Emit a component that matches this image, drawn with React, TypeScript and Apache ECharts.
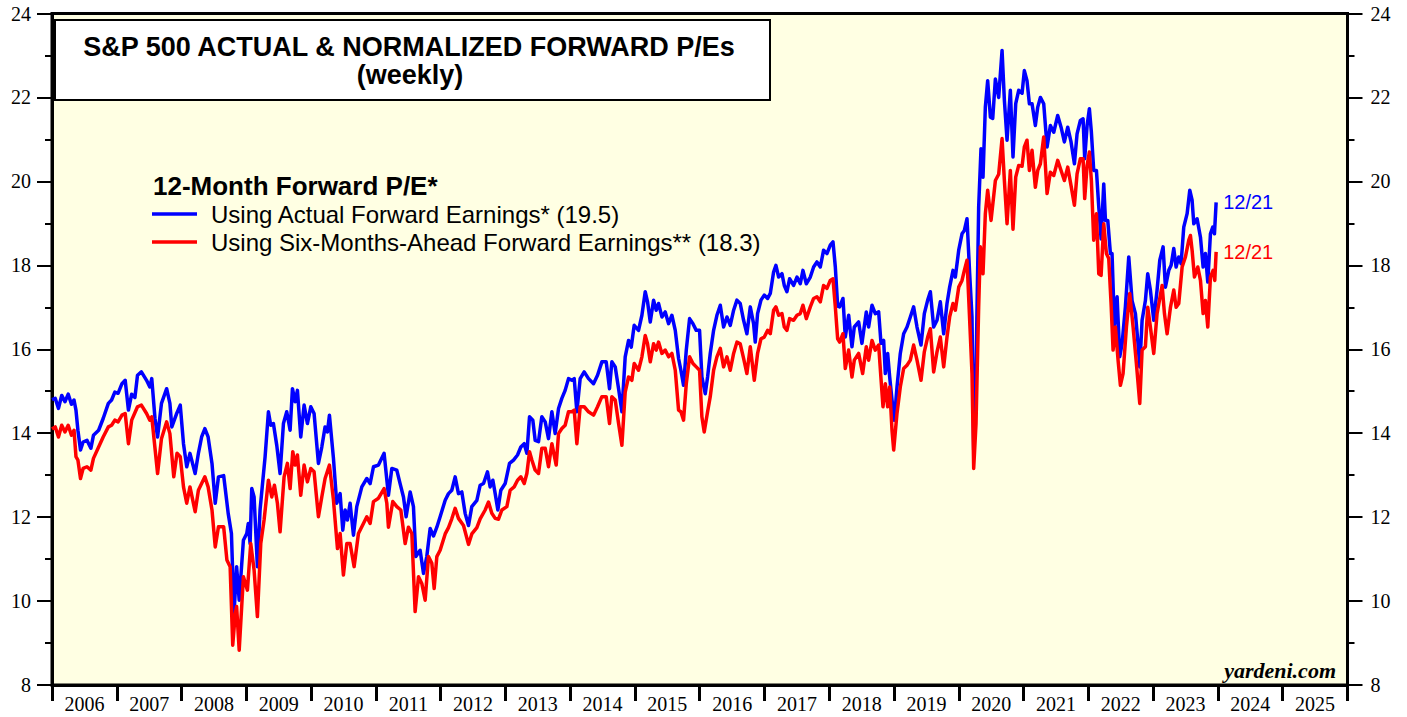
import React, { useEffect, useRef } from "react";
import * as echarts from "echarts";

const yearLabels = ["2006","2007","2008","2009","2010","2011","2012","2013","2014","2015","2016","2017","2018","2019","2020","2021","2022","2023","2024","2025"];
const legendTitle = "12-Month Forward P/E*";
const seriesNames = ["Using Actual Forward Earnings* (19.5)", "Using Six-Months-Ahead Forward Earnings** (18.3)"];
const endLabels = ["12/21", "12/21"];
const chartTitle = ["S&P 500 ACTUAL & NORMALIZED FORWARD P/Es", "(weekly)"];
const sourceLabel = "yardeni.com";

// [decimal year, P/E]
const actualPE = [
[2006.0,14.8],[2006.05,14.83],[2006.10,14.59],[2006.15,14.90],[2006.20,14.75],[2006.25,14.93],[2006.30,14.69],[2006.34,14.79],[2006.37,14.55],[2006.40,14.07],[2006.44,13.60],[2006.48,13.79],[2006.54,13.83],[2006.60,13.64],[2006.64,13.95],[2006.72,14.07],[2006.79,14.35],[2006.87,14.71],[2006.92,14.79],[2006.97,14.98],[2007.02,14.95],[2007.08,15.18],[2007.13,15.26],[2007.18,14.55],[2007.23,14.93],[2007.28,14.85],[2007.32,15.38],[2007.38,15.46],[2007.46,15.26],[2007.51,15.10],[2007.54,15.30],[2007.59,14.35],[2007.63,13.91],[2007.69,14.71],[2007.77,15.06],[2007.82,14.71],[2007.85,14.15],[2007.92,14.45],[2007.98,14.67],[2008.03,13.75],[2008.08,13.20],[2008.13,13.52],[2008.21,13.04],[2008.26,13.52],[2008.31,13.91],[2008.36,14.11],[2008.41,13.91],[2008.47,13.28],[2008.52,12.33],[2008.57,12.96],[2008.65,12.99],[2008.72,12.09],[2008.77,11.61],[2008.81,9.7],[2008.85,10.82],[2008.89,10.02],[2008.955,11.45],[2009.007,11.61],[2009.03,11.85],[2009.058,11.37],[2009.084,12.68],[2009.12,12.48],[2009.171,10.82],[2009.212,12.17],[2009.248,12.76],[2009.29,13.44],[2009.341,14.51],[2009.377,14.19],[2009.418,14.23],[2009.47,13.71],[2009.521,13.04],[2009.573,14.23],[2009.624,14.51],[2009.676,14.07],[2009.712,15.06],[2009.753,14.75],[2009.789,15.02],[2009.84,13.91],[2009.892,14.67],[2009.943,14.23],[2009.995,14.63],[2010.046,14.47],[2010.113,13.28],[2010.165,13.67],[2010.216,14.15],[2010.252,14.03],[2010.283,14.43],[2010.345,13.40],[2010.396,12.33],[2010.448,12.56],[2010.489,11.69],[2010.525,12.17],[2010.561,11.93],[2010.602,12.33],[2010.654,11.57],[2010.705,12.25],[2010.783,12.72],[2010.86,12.92],[2010.911,12.80],[2010.963,13.20],[2011.04,13.24],[2011.127,13.52],[2011.194,12.52],[2011.246,13.16],[2011.323,13.12],[2011.374,12.80],[2011.426,12.48],[2011.467,12.01],[2011.529,12.60],[2011.58,12.25],[2011.617,11.06],[2011.683,11.21],[2011.735,10.66],[2011.786,11.06],[2011.838,11.73],[2011.889,11.55],[2011.941,11.76],[2011.992,12.01],[2012.07,12.40],[2012.121,12.56],[2012.172,12.64],[2012.224,12.96],[2012.275,12.56],[2012.327,12.60],[2012.378,12.09],[2012.43,11.8],[2012.481,12.25],[2012.559,12.40],[2012.61,12.76],[2012.662,12.80],[2012.723,13.08],[2012.764,12.72],[2012.806,12.88],[2012.842,12.56],[2012.883,12.17],[2012.929,12.64],[2012.996,12.80],[2013.063,13.28],[2013.125,13.36],[2013.187,13.48],[2013.238,13.67],[2013.29,13.75],[2013.331,13.52],[2013.372,14.39],[2013.423,14.31],[2013.459,13.83],[2013.511,13.80],[2013.562,14.39],[2013.614,14.27],[2013.665,13.87],[2013.717,14.51],[2013.768,13.99],[2013.82,14.59],[2013.871,14.83],[2013.922,15.02],[2013.974,15.30],[2014.026,15.26],[2014.062,15.30],[2014.103,14.51],[2014.154,15.30],[2014.216,15.46],[2014.283,15.30],[2014.36,15.18],[2014.422,15.38],[2014.489,15.70],[2014.556,15.70],[2014.607,15.06],[2014.643,15.70],[2014.695,15.58],[2014.747,15.06],[2014.798,14.51],[2014.849,15.82],[2014.901,16.21],[2014.942,16.05],[2014.988,16.57],[2015.055,16.45],[2015.107,16.81],[2015.158,17.37],[2015.194,17.13],[2015.236,16.65],[2015.287,17.17],[2015.328,16.93],[2015.364,17.09],[2015.416,16.77],[2015.467,16.89],[2015.519,16.61],[2015.57,16.81],[2015.622,16.45],[2015.673,15.78],[2015.709,15.50],[2015.75,15.14],[2015.792,15.98],[2015.843,16.73],[2015.895,16.61],[2015.946,16.45],[2015.997,16.45],[2016.033,15.34],[2016.085,14.94],[2016.121,15.34],[2016.162,15.90],[2016.214,16.45],[2016.265,16.81],[2016.317,17.05],[2016.368,16.53],[2016.42,16.77],[2016.471,16.57],[2016.523,16.93],[2016.574,17.17],[2016.625,17.09],[2016.677,16.69],[2016.728,16.37],[2016.78,17.01],[2016.831,16.61],[2016.857,16.17],[2016.893,16.85],[2016.945,17.17],[2016.996,17.29],[2017.048,17.21],[2017.089,17.33],[2017.14,17.84],[2017.176,18.00],[2017.218,17.72],[2017.269,17.80],[2017.305,17.52],[2017.346,17.37],[2017.387,17.68],[2017.449,17.52],[2017.501,17.72],[2017.552,17.56],[2017.593,17.88],[2017.645,17.56],[2017.707,17.72],[2017.758,17.96],[2017.809,18.08],[2017.861,17.96],[2017.912,18.36],[2017.964,18.28],[2018.015,18.48],[2018.057,18.56],[2018.093,17.96],[2018.129,17.03],[2018.16,17.01],[2018.211,17.21],[2018.247,16.29],[2018.299,16.81],[2018.35,16.06],[2018.386,16.53],[2018.453,16.65],[2018.504,16.14],[2018.571,16.89],[2018.607,16.53],[2018.659,17.05],[2018.71,16.85],[2018.762,16.89],[2018.798,16.14],[2018.839,16.21],[2018.865,15.42],[2018.901,15.90],[2018.932,15.34],[2018.968,14.79],[2019.004,14.31],[2019.045,15.10],[2019.096,15.90],[2019.148,16.37],[2019.2,16.53],[2019.251,16.77],[2019.302,17.01],[2019.354,16.53],[2019.416,16.10],[2019.467,16.85],[2019.519,17.17],[2019.56,17.37],[2019.611,16.53],[2019.663,16.69],[2019.714,17.13],[2019.766,16.37],[2019.817,17.09],[2019.858,17.48],[2019.91,17.88],[2019.946,17.72],[2019.998,18.36],[2020.049,18.75],[2020.085,18.83],[2020.126,19.11],[2020.167,17.80],[2020.203,16.77],[2020.229,13.6],[2020.265,15.5],[2020.306,19.39],[2020.342,20.78],[2020.373,20.10],[2020.409,21.77],[2020.445,22.40],[2020.487,21.53],[2020.523,21.5],[2020.564,22.44],[2020.615,22.0],[2020.667,23.12],[2020.703,21.93],[2020.744,20.98],[2020.795,22.17],[2020.836,20.58],[2020.878,21.85],[2020.924,22.17],[2020.976,22.10],[2021.011,22.64],[2021.052,22.40],[2021.089,21.85],[2021.13,21.85],[2021.181,21.33],[2021.218,21.77],[2021.259,22.0],[2021.31,21.85],[2021.362,20.82],[2021.413,21.33],[2021.465,21.17],[2021.526,21.57],[2021.578,21.29],[2021.629,20.94],[2021.681,21.29],[2021.732,20.94],[2021.784,20.42],[2021.825,21.13],[2021.876,21.45],[2021.918,21.49],[2021.943,20.54],[2021.98,21.33],[2022.015,21.73],[2022.046,21.17],[2022.082,20.26],[2022.124,20.26],[2022.16,19.39],[2022.196,18.63],[2022.237,19.94],[2022.263,19.07],[2022.299,19.07],[2022.34,18.28],[2022.365,18.28],[2022.402,16.53],[2022.443,17.25],[2022.484,15.82],[2022.52,16.13],[2022.571,17.01],[2022.623,18.20],[2022.674,17.16],[2022.726,16.85],[2022.762,16.21],[2022.793,15.58],[2022.829,16.69],[2022.88,17.16],[2022.916,17.80],[2022.957,17.41],[2023.009,16.69],[2023.06,17.41],[2023.102,18.12],[2023.153,18.44],[2023.189,17.48],[2023.241,17.88],[2023.277,18.0],[2023.318,18.40],[2023.354,17.96],[2023.395,18.20],[2023.431,18.04],[2023.472,18.91],[2023.524,19.23],[2023.565,19.79],[2023.601,19.55],[2023.627,18.99],[2023.678,19.11],[2023.73,18.67],[2023.771,17.96],[2023.807,18.28],[2023.843,17.60],[2023.884,18.75],[2023.92,18.91],[2023.946,18.75],[2023.972,19.5]
];

const sixMonthPE = [
[2006.0,14.1],[2006.05,14.15],[2006.10,13.91],[2006.15,14.19],[2006.20,14.03],[2006.25,14.19],[2006.30,13.95],[2006.34,14.07],[2006.37,13.44],[2006.40,13.36],[2006.44,12.92],[2006.48,13.16],[2006.54,13.20],[2006.60,13.12],[2006.64,13.40],[2006.72,13.67],[2006.79,13.91],[2006.87,14.15],[2006.92,14.19],[2006.97,14.31],[2007.02,14.27],[2007.08,14.43],[2007.13,14.47],[2007.18,13.75],[2007.23,14.31],[2007.32,14.63],[2007.38,14.67],[2007.46,14.47],[2007.51,14.31],[2007.54,14.39],[2007.59,13.64],[2007.63,13.04],[2007.69,13.87],[2007.77,14.27],[2007.82,13.99],[2007.88,12.96],[2007.93,13.52],[2007.98,13.44],[2008.03,12.72],[2008.08,12.33],[2008.13,12.72],[2008.21,12.13],[2008.26,12.64],[2008.31,12.80],[2008.36,12.96],[2008.41,12.72],[2008.47,12.17],[2008.52,11.29],[2008.57,11.77],[2008.65,11.77],[2008.70,10.98],[2008.75,10.82],[2008.79,8.95],[2008.83,9.71],[2008.85,9.87],[2008.89,8.83],[2008.955,10.58],[2009.017,10.26],[2009.068,11.37],[2009.12,10.74],[2009.171,9.63],[2009.223,11.37],[2009.274,11.93],[2009.341,12.88],[2009.393,12.48],[2009.434,12.76],[2009.48,12.33],[2009.521,11.65],[2009.583,12.96],[2009.634,13.28],[2009.676,12.68],[2009.717,13.56],[2009.753,13.24],[2009.789,13.48],[2009.84,12.52],[2009.892,13.24],[2009.943,12.84],[2009.995,13.16],[2010.046,13.08],[2010.113,12.01],[2010.165,12.48],[2010.216,12.92],[2010.283,13.24],[2010.345,12.41],[2010.407,11.25],[2010.448,11.61],[2010.499,10.62],[2010.551,11.37],[2010.602,11.37],[2010.664,10.82],[2010.731,11.61],[2010.808,11.85],[2010.86,12.01],[2010.911,11.85],[2010.963,12.37],[2011.04,12.45],[2011.127,12.68],[2011.169,12.33],[2011.194,11.76],[2011.261,12.37],[2011.323,12.25],[2011.385,12.17],[2011.452,11.37],[2011.503,11.76],[2011.555,11.61],[2011.606,9.75],[2011.658,10.58],[2011.709,10.42],[2011.761,10.02],[2011.812,11.06],[2011.864,10.90],[2011.9,10.30],[2011.941,11.06],[2011.992,11.21],[2012.07,11.6],[2012.121,11.75],[2012.172,11.96],[2012.224,12.21],[2012.275,11.97],[2012.353,11.8],[2012.43,11.35],[2012.481,11.6],[2012.559,11.75],[2012.61,11.96],[2012.687,12.17],[2012.739,12.36],[2012.79,12.09],[2012.842,11.97],[2012.893,11.95],[2012.945,12.17],[2013.022,12.25],[2013.073,12.64],[2013.135,12.72],[2013.187,12.88],[2013.238,12.96],[2013.29,12.80],[2013.331,13.04],[2013.372,13.56],[2013.408,13.36],[2013.459,13.12],[2013.511,13.04],[2013.562,13.64],[2013.614,13.64],[2013.665,13.20],[2013.717,13.75],[2013.784,13.24],[2013.82,13.99],[2013.871,14.11],[2013.922,14.19],[2013.974,14.51],[2014.026,14.51],[2014.062,14.55],[2014.103,13.75],[2014.154,14.63],[2014.216,14.63],[2014.283,14.51],[2014.36,14.43],[2014.422,14.63],[2014.489,14.87],[2014.556,14.87],[2014.607,14.23],[2014.643,14.87],[2014.695,14.79],[2014.747,14.23],[2014.798,13.71],[2014.849,14.98],[2014.901,15.34],[2014.952,15.26],[2014.988,15.66],[2015.055,15.50],[2015.107,15.82],[2015.158,16.33],[2015.194,16.13],[2015.236,15.70],[2015.287,16.13],[2015.328,15.98],[2015.364,16.17],[2015.416,15.90],[2015.467,15.98],[2015.519,15.82],[2015.57,15.90],[2015.622,15.50],[2015.673,14.55],[2015.709,14.51],[2015.75,14.31],[2015.792,15.18],[2015.843,15.82],[2015.895,15.66],[2015.946,15.58],[2015.997,15.50],[2016.033,14.39],[2016.069,14.03],[2016.121,14.51],[2016.162,14.87],[2016.214,15.50],[2016.265,15.82],[2016.317,16.02],[2016.368,15.58],[2016.42,15.82],[2016.471,15.50],[2016.523,15.90],[2016.574,16.17],[2016.625,16.13],[2016.677,15.78],[2016.728,15.42],[2016.78,16.06],[2016.842,15.26],[2016.893,15.90],[2016.945,16.25],[2016.996,16.29],[2017.048,16.45],[2017.089,16.37],[2017.14,16.93],[2017.176,17.01],[2017.218,16.81],[2017.269,16.85],[2017.305,16.53],[2017.346,16.45],[2017.387,16.73],[2017.449,16.69],[2017.501,16.81],[2017.552,16.85],[2017.593,17.05],[2017.645,16.73],[2017.707,17.01],[2017.758,17.21],[2017.809,17.25],[2017.861,17.13],[2017.912,17.52],[2017.964,17.45],[2018.015,17.64],[2018.057,17.68],[2018.093,17.01],[2018.129,16.25],[2018.16,16.17],[2018.211,16.37],[2018.247,15.54],[2018.299,15.98],[2018.35,15.34],[2018.386,15.74],[2018.453,15.90],[2018.515,15.42],[2018.571,16.06],[2018.607,15.74],[2018.659,16.21],[2018.71,15.98],[2018.762,16.10],[2018.798,15.30],[2018.829,14.63],[2018.865,15.18],[2018.901,14.63],[2018.932,15.10],[2018.968,14.07],[2018.994,13.60],[2019.045,14.47],[2019.096,15.10],[2019.148,15.54],[2019.2,15.62],[2019.251,15.74],[2019.302,16.10],[2019.354,15.74],[2019.416,15.26],[2019.467,15.94],[2019.519,16.29],[2019.56,16.49],[2019.611,15.46],[2019.663,15.94],[2019.714,16.29],[2019.766,15.58],[2019.817,16.29],[2019.858,16.77],[2019.91,17.09],[2019.946,16.93],[2019.998,17.48],[2020.049,17.64],[2020.085,17.88],[2020.126,18.12],[2020.167,16.69],[2020.203,15.42],[2020.229,13.16],[2020.265,14.23],[2020.306,17.01],[2020.332,18.44],[2020.373,17.80],[2020.409,19.23],[2020.445,19.79],[2020.497,19.07],[2020.564,20.02],[2020.615,20.17],[2020.667,21.02],[2020.703,20.02],[2020.744,18.99],[2020.795,20.26],[2020.836,18.86],[2020.878,20.1],[2020.924,20.38],[2020.976,20.36],[2021.011,20.82],[2021.052,20.98],[2021.089,20.26],[2021.13,20.74],[2021.181,19.86],[2021.218,20.26],[2021.259,20.42],[2021.31,21.06],[2021.362,19.71],[2021.413,20.22],[2021.465,20.14],[2021.526,20.50],[2021.578,20.26],[2021.629,20.02],[2021.681,20.34],[2021.732,19.9],[2021.784,19.43],[2021.825,20.18],[2021.876,20.54],[2021.918,20.54],[2021.943,19.59],[2021.98,20.38],[2022.015,20.70],[2022.046,20.02],[2022.082,18.60],[2022.124,19.23],[2022.16,17.80],[2022.196,17.76],[2022.237,18.99],[2022.278,18.28],[2022.314,18.16],[2022.35,17.09],[2022.381,15.98],[2022.417,16.53],[2022.458,15.74],[2022.494,15.14],[2022.535,15.42],[2022.587,16.53],[2022.638,17.33],[2022.69,16.53],[2022.741,15.66],[2022.793,14.71],[2022.829,15.98],[2022.88,16.06],[2022.916,17.0],[2022.957,16.53],[2023.009,15.90],[2023.06,16.85],[2023.138,17.52],[2023.174,16.85],[2023.215,16.37],[2023.267,17.0],[2023.318,17.41],[2023.354,17.0],[2023.395,17.09],[2023.447,17.96],[2023.498,18.20],[2023.55,18.60],[2023.575,18.71],[2023.601,18.36],[2023.637,17.72],[2023.689,17.96],[2023.73,17.64],[2023.771,16.85],[2023.807,17.16],[2023.843,16.53],[2023.884,17.72],[2023.925,17.88],[2023.951,17.64],[2023.972,18.32]
];

const SANS = '"Liberation Sans", Arial, sans-serif';
const SERIF = '"Liberation Serif", "Times New Roman", serif';

export default function App() {
  const ref = useRef<HTMLDivElement>(null);
  useEffect(() => {
    if (!ref.current) return;
    const chart = echarts.init(ref.current, undefined, { renderer: "svg" });
    const yAxisBase = (pos: "left" | "right", margin: number) => ({
      type: "value",
      position: pos,
      min: 8,
      max: 24,
      interval: 2,
      axisLine: { show: true, lineStyle: { color: "#000", width: 3 } },
      axisTick: { show: true, length: 15, lineStyle: { color: "#000", width: 2 } },
      minorTick: { show: true, splitNumber: 2, length: 7, lineStyle: { color: "#000", width: 2 } },
      splitLine: { show: false },
      axisLabel: { color: "#000", fontSize: 20, fontFamily: SERIF, margin },
    });
    chart.setOption({
      animation: false,
      backgroundColor: "#ffffff",
      grid: {
        left: 52, right: 59.5, top: 13.5, bottom: 32,
        show: true, backgroundColor: "#FFFFE3", borderColor: "#000", borderWidth: 3,
      },
      xAxis: [
        { type: "value", position: "top", min: 2006, max: 2026, show: false },
        {
          type: "category", position: "bottom", data: yearLabels, boundaryGap: true,
          axisLine: { show: true, lineStyle: { color: "#000", width: 3 } },
          axisTick: { show: true, length: 16, interval: 0, lineStyle: { color: "#000", width: 3 } },
          axisLabel: { interval: 0, color: "#000", fontSize: 20, fontFamily: SERIF, margin: 9 },
          splitLine: { show: false },
        },
      ],
      yAxis: [yAxisBase("left", 21), yAxisBase("right", 23)],
      series: [
        {
          type: "line", name: seriesNames[0], xAxisIndex: 0, yAxisIndex: 0,
          data: actualPE, showSymbol: false, symbol: "none", silent: true,
          lineStyle: { color: "#0000FF", width: 3.5, join: "round" },
          itemStyle: { color: "#0000FF" },
          endLabel: { show: true, formatter: endLabels[0], color: "#0000FF", fontSize: 20, fontFamily: SANS, distance: 7 },
        },
        {
          type: "line", name: seriesNames[1], xAxisIndex: 0, yAxisIndex: 0,
          data: sixMonthPE, showSymbol: false, symbol: "none", silent: true,
          lineStyle: { color: "#FF0000", width: 3.5, join: "round" },
          itemStyle: { color: "#FF0000" },
          endLabel: { show: true, formatter: endLabels[1], color: "#FF0000", fontSize: 20, fontFamily: SANS, distance: 7 },
        },
      ],
      graphic: [
        { type: "rect", shape: { x: 55, y: 20, width: 715, height: 80 }, style: { fill: "#fff", stroke: "#000", lineWidth: 2 }, z: 10 },
        { type: "text", x: 409, y: 47, z: 11, style: { text: chartTitle[0], font: `bold 27px ${SANS}`, fill: "#000", textAlign: "center", textVerticalAlign: "middle" } },
        { type: "text", x: 410, y: 75, z: 11, style: { text: chartTitle[1], font: `bold 27px ${SANS}`, fill: "#000", textAlign: "center", textVerticalAlign: "middle" } },
        { type: "text", x: 153, y: 186, z: 11, style: { text: legendTitle, font: `bold 26px ${SANS}`, fill: "#000", textAlign: "left", textVerticalAlign: "middle" } },
        { type: "line", z: 11, shape: { x1: 152, y1: 214, x2: 197, y2: 214 }, style: { stroke: "#0000FF", lineWidth: 3.5 } },
        { type: "text", x: 211, y: 214, z: 11, style: { text: seriesNames[0], font: `24px ${SANS}`, fill: "#000", textAlign: "left", textVerticalAlign: "middle" } },
        { type: "line", z: 11, shape: { x1: 152, y1: 242, x2: 197, y2: 242 }, style: { stroke: "#FF0000", lineWidth: 3.5 } },
        { type: "text", x: 211, y: 242, z: 11, style: { text: seriesNames[1], font: `24px ${SANS}`, fill: "#000", textAlign: "left", textVerticalAlign: "middle" } },
        { type: "text", x: 1336, y: 670, z: 11, style: { text: sourceLabel, font: `italic bold 22px ${SERIF}`, fill: "#000", textAlign: "right", textVerticalAlign: "middle" } },
      ],
    });
    return () => chart.dispose();
  }, []);
  return (
    <div
      ref={ref}
      style={{ position: "fixed", left: 0, top: 0, width: 1407, height: 717, background: "#fff" }}
    />
  );
}
